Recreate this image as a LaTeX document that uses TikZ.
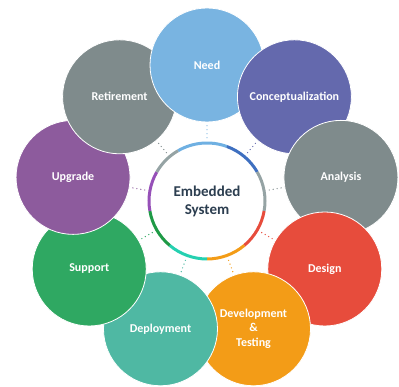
\documentclass[tikz,border=0pt]{standalone}
\usepackage{fontspec}
\setmainfont{Carlito}
\usetikzlibrary{calc}
\definecolor{cNeed}{HTML}{79B4E1}
\definecolor{cConc}{HTML}{6469AD}
\definecolor{cGray}{HTML}{7F8B8C}
\definecolor{cDesign}{HTML}{E74C3C}
\definecolor{cDev}{HTML}{F39C17}
\definecolor{cDepl}{HTML}{4FB8A3}
\definecolor{cSupp}{HTML}{2FA862}
\definecolor{cUpg}{HTML}{8D5B9D}
\definecolor{rNeed}{HTML}{6FB0E2}
\definecolor{rConc}{HTML}{3E6FC0}
\definecolor{rGray}{HTML}{95A3A4}
\definecolor{rTeal}{HTML}{25D0B0}
\definecolor{rGreen}{HTML}{1E9A46}
\definecolor{rPurple}{HTML}{9650B8}
\definecolor{hubtext}{HTML}{2C3E50}
\tikzset{
  stage/.style={circle, fill=#1, draw=white, line width=0.8pt, minimum size=114pt, inner sep=0pt,
    text=white, font=\bfseries\fontsize{12}{14.5}\selectfont, align=center},
  dotconn/.style={draw=#1, line width=1.4pt, line cap=round, dash pattern=on 0pt off 4pt,
    shorten <=5pt, shorten >=2pt},
  ringarc/.style={draw=#1, line width=3pt},
}
\begin{document}
\begin{tikzpicture}[x=1pt,y=1pt]
\useasboundingbox (0,0) rectangle (399,387);
\coordinate (C) at (207,186);
% hub
\node[circle, fill=white, minimum size=116pt, inner sep=0pt, text=hubtext,
  font=\bfseries\fontsize{15}{18}\selectfont, align=center] (hub) at (C) {Embedded\\System};
% stage positions
\coordinate (pNeed) at ($(C)+(90:136)$);
\coordinate (pConc) at ($(C)+(50:136)$);
\coordinate (pAna)  at ($(C)+(10:136)$);
\coordinate (pDes)  at ($(C)+(-30:136)$);
\coordinate (pDev)  at ($(C)+(-70:136)$);
\coordinate (pDepl) at ($(C)+(-110:136)$);
\coordinate (pSupp) at ($(C)+(-150:136)$);
\coordinate (pUpg)  at ($(C)+(170:136)$);
\coordinate (pRet)  at ($(C)+(130:136)$);
% stages (order gives the overlaps)
\node[stage=cNeed]   (need) at (pNeed) {Need};
\node[stage=cConc]   (conc) at (pConc) {Conceptualization};
\node[stage=cGray]   (ana)  at (pAna)  {Analysis};
\node[stage=cDesign] (des)  at (pDes)  {Design};
\node[stage=cDev]    (dev)  at (pDev)  {Development\\\&\\Testing};
\node[stage=cDepl]   (depl) at (pDepl) {Deployment};
\node[stage=cSupp]   (supp) at (pSupp) {Support};
\node[stage=cUpg]    (upg)  at (pUpg)  {Upgrade};
\node[stage=cGray]   (ret)  at (pRet)  {Retirement};
% Need lies over Retirement
\begin{scope}
  \clip (0,0) rectangle (207,387);
  \node[stage=cNeed] (needover) at (pNeed) {Need};
\end{scope}
% dotted connectors
\draw[dotconn=cNeed]   (hub) -- (need);
\draw[dotconn=cConc]   (hub) -- (conc);
\draw[dotconn=cGray]   (hub) -- (ana);
\draw[dotconn=cDesign] (hub) -- (des);
\draw[dotconn=cDev]    (hub) -- (dev);
\draw[dotconn=cDepl]   (hub) -- (depl);
\draw[dotconn=cSupp]   (hub) -- (supp);
\draw[dotconn=cUpg]    (hub) -- (upg);
\draw[dotconn=cGray]   (hub) -- (ret);
% ring arcs
\draw[ringarc=rNeed]   ($(C)+(70:58)$)   arc[start angle=70,   end angle=120, radius=58];
\draw[ringarc=rConc]   ($(C)+(30:58)$)   arc[start angle=30,   end angle=70,  radius=58];
\draw[ringarc=rGray]   ($(C)+(-10:58)$)  arc[start angle=-10,  end angle=30,  radius=58];
\draw[ringarc=cDesign] ($(C)+(-50:58)$)  arc[start angle=-50,  end angle=-10, radius=58];
\draw[ringarc=cDev]    ($(C)+(-90:58)$)  arc[start angle=-90,  end angle=-50, radius=58];
\draw[ringarc=rTeal]   ($(C)+(-130:58)$) arc[start angle=-130, end angle=-90, radius=58];
\draw[ringarc=rGreen]  ($(C)+(-170:58)$) arc[start angle=-170, end angle=-130,radius=58];
\draw[ringarc=rPurple] ($(C)+(150:58)$)  arc[start angle=150,  end angle=190, radius=58];
\draw[ringarc=rGray]   ($(C)+(120:58)$)  arc[start angle=120,  end angle=150, radius=58];
\end{tikzpicture}
\end{document}
